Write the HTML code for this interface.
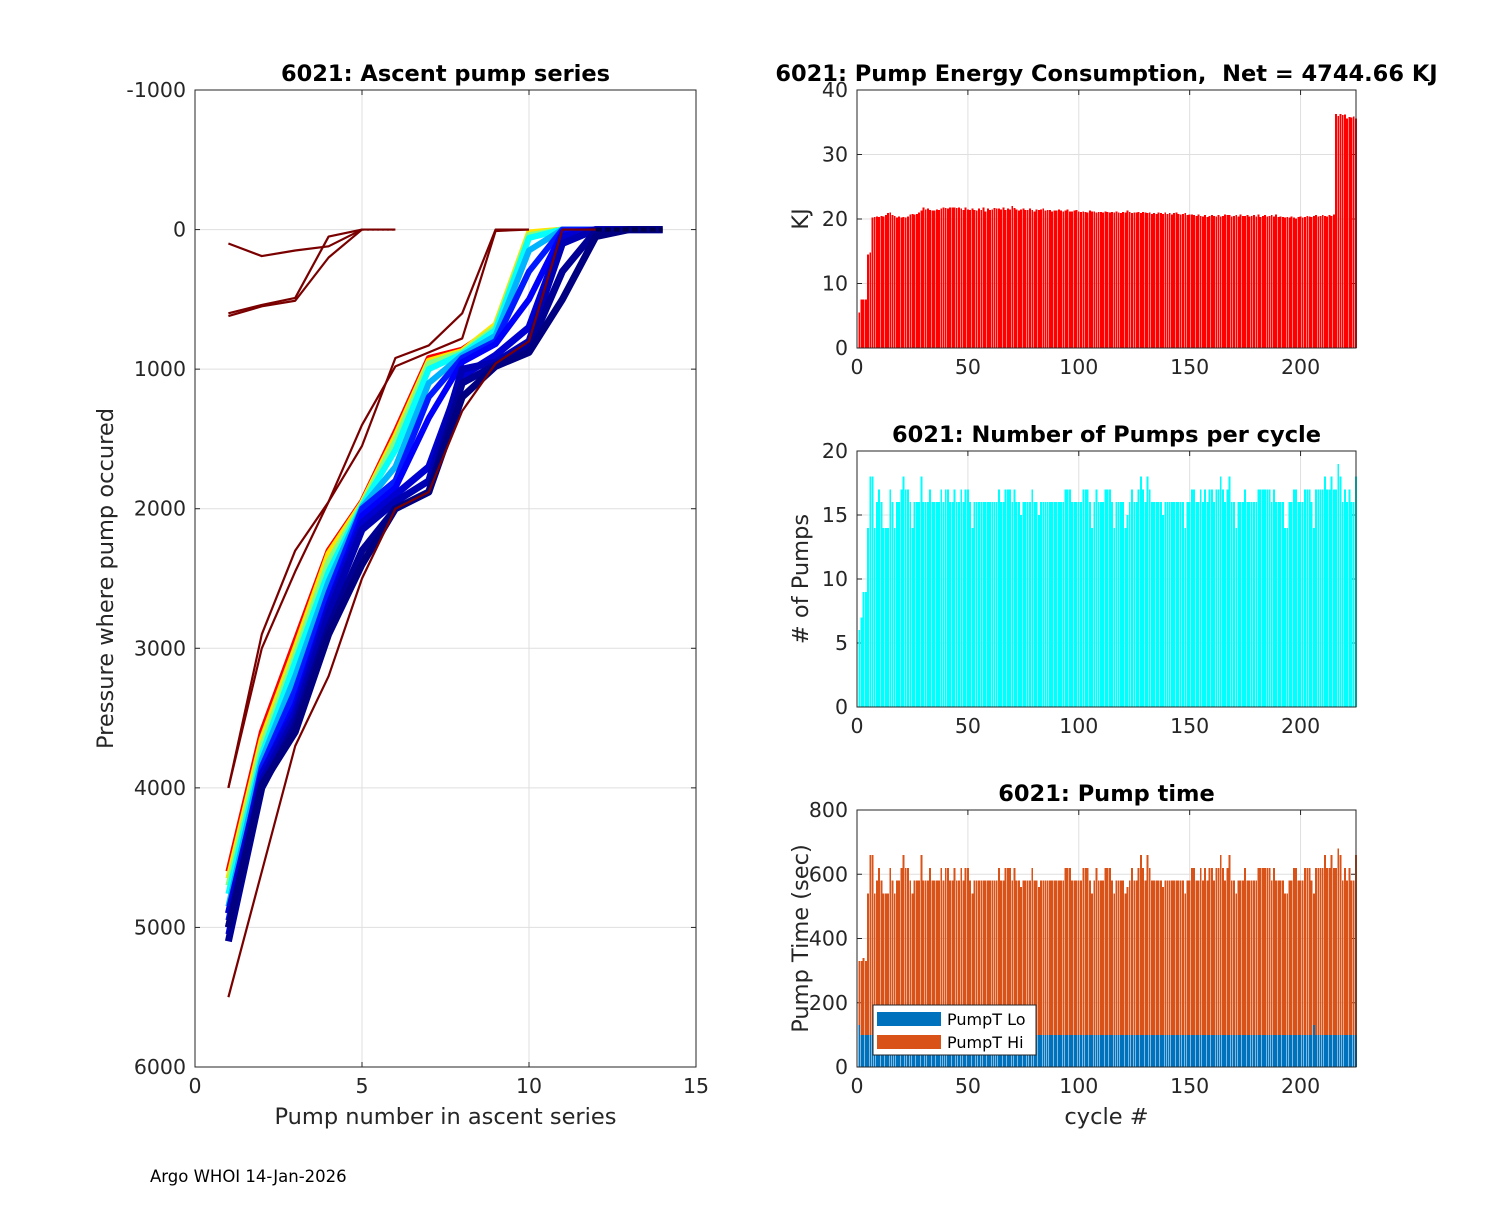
<!DOCTYPE html>
<html><head><meta charset="utf-8"><style>
body{margin:0;background:#fff;width:1500px;height:1200px;overflow:hidden}
svg{font-family:"DejaVu Sans","Liberation Sans",sans-serif}
text{white-space:pre}
</style></head><body>
<svg id="fig" width="1500" height="1200" viewBox="0 0 1500 1200" xmlns="http://www.w3.org/2000/svg"></svg>
<script>
// ---- left chart data: pressure at each pump in ascent series (representative profiles)
const profiles = [
 [4600,3600,2950,2300,1950,1450,920,860,700,30,0,0],
 [4650,3650,3000,2320,1960,1480,940,870,680,20,0,0],
 [4700,3700,3050,2380,1970,1520,960,880,700,40,0,0],
 [4760,3760,3100,2450,1980,1580,1000,890,720,60,0,0],
 [4850,3800,3200,2520,1990,1700,1100,900,760,150,0,0],
 [4950,3850,3300,2600,2000,1800,1200,920,800,300,0,0,0],
 [5050,3900,3400,2680,2050,1850,1350,950,820,500,20,0,0],
 [4900,3900,3450,2700,2100,1900,1700,1050,900,700,50,0,0,0],
 [5000,3950,3500,2750,2150,1950,1800,1000,950,800,100,0,0,0],
 [5100,4000,3550,2850,2300,2000,1880,1100,970,850,300,10,0,0],
 [5000,3980,3600,2900,2400,2000,1880,1200,980,880,500,50,0,0],
 [100,190,150,120,0,0],
 [600,540,490,50,0],
 [620,550,510,200,0],
 [4000,2900,2300,1950,1550,920,830,600,0,0],
 [4000,3000,2450,1950,1400,980,880,780,10,0],
 [5500,4600,3700,3200,2500,2000,1880,1300,960,800,0,0]
];
const profileColorIdx = [0.88,0.65,0.5,0.38,0.3,0.15,0.12,0.08,0.05,0.02,0.0,1,1,1,1,1,1];
const leftXTicks = [0,5,10,15];
const leftYTicks = [-1000,0,1000,2000,3000,4000,5000,6000];
// ---- right charts data (per cycle 1..225)
const energy = [5.5,7.5,7.5,7.5,14.5,14.8,20.2,20.3,20.4,20.3,20.5,20.4,20.6,20.9,21.0,20.6,20.5,20.2,20.4,20.2,20.3,20.2,20.4,20.7,20.8,20.7,20.8,21.0,21.3,21.8,21.5,21.6,21.4,21.3,21.3,21.5,21.4,21.6,21.8,21.7,21.6,21.8,21.8,21.8,21.7,21.8,21.6,21.4,21.8,21.5,21.4,21.6,21.4,21.3,21.6,21.4,21.8,21.2,21.6,21.4,21.5,21.7,21.6,21.6,21.5,21.8,21.4,21.6,21.5,22.0,21.7,21.5,21.3,21.5,21.6,21.4,21.4,21.6,21.4,21.2,21.5,21.4,21.5,21.6,21.3,21.4,21.4,21.2,21.3,21.3,21.5,21.3,21.2,21.3,21.5,21.2,21.2,21.3,21.4,21.2,21.1,21.2,21.1,21.0,21.3,21.2,21.2,21.0,21.1,21.1,21.0,21.2,21.1,21.0,21.1,21.0,21.2,21.0,20.9,21.1,21.0,21.3,21.1,20.9,21.0,21.0,21.1,20.9,21.1,21.0,20.9,21.0,20.8,20.9,20.8,21.0,20.9,20.8,21.0,20.8,20.9,20.7,20.9,21.0,20.8,20.7,20.8,20.9,20.6,20.7,20.7,20.6,20.5,20.7,20.5,20.4,20.6,20.3,20.5,20.6,20.5,20.4,20.6,20.4,20.5,20.7,20.6,20.6,20.4,20.5,20.6,20.4,20.7,20.5,20.5,20.6,20.4,20.5,20.6,20.4,20.7,20.3,20.5,20.6,20.4,20.5,20.6,20.4,20.7,20.3,20.4,20.3,20.2,20.3,20.2,20.4,20.2,20.1,20.3,20.4,20.2,20.3,20.5,20.4,20.3,20.5,20.6,20.4,20.5,20.6,20.5,20.4,20.6,20.5,20.7,36.3,36.0,36.3,36.1,36.2,35.6,35.8,35.7,35.9,35.6];
const pumps = [6,7,9,9,14,18,18,14,16,17,16,14,14,14,17,16,14,16,16,17,18,17,17,16,14,16,16,16,18,16,16,16,17,16,16,16,16,17,16,17,17,16,16,17,16,16,17,16,17,17,16,14,16,16,16,16,16,16,16,16,16,16,16,17,16,16,17,17,17,16,17,16,16,15,16,16,16,16,17,16,16,15,16,16,16,16,16,16,16,16,16,16,16,17,17,17,16,16,16,16,16,17,17,17,16,14,16,17,16,16,16,17,17,17,16,14,16,16,16,16,14,15,16,17,16,16,17,18,17,16,18,17,16,16,16,16,16,15,16,16,16,16,16,16,16,16,16,14,16,16,17,17,16,16,17,16,17,16,17,17,16,17,17,18,17,16,17,18,16,16,14,16,16,16,17,16,16,16,16,16,17,17,17,17,17,17,16,17,16,16,16,16,14,14,16,16,17,17,16,16,16,17,17,17,16,14,17,17,17,17,18,17,17,18,17,17,19,18,16,17,16,17,16,16,18];
const pumpLo = [130,100,100,100,100,100,100,100,100,100,100,100,100,100,100,100,100,100,100,100,100,100,100,100,100,100,100,100,100,100,100,100,100,100,100,100,100,100,100,100,100,100,100,100,100,100,100,100,100,100,100,100,100,100,100,100,100,100,100,100,100,100,100,100,100,100,100,100,100,100,100,100,100,100,100,100,100,100,100,100,100,100,100,100,100,100,100,100,100,100,100,100,100,100,100,100,100,100,100,100,100,100,100,100,100,100,100,100,100,100,100,100,100,100,100,100,100,100,100,100,100,100,100,100,100,100,100,100,100,100,100,100,100,100,100,100,100,100,100,100,100,100,100,100,100,100,100,100,100,100,100,100,100,100,100,100,100,100,100,100,100,100,100,100,100,100,100,100,100,100,100,100,100,100,100,100,100,100,100,100,100,100,100,100,100,100,100,100,100,100,100,100,100,100,100,100,100,100,100,100,100,100,100,100,100,130,100,100,100,100,100,100,100,100,100,100,100,100,100,100,100,100,100,100,100];
const pumpHi = [200,230,240,230,440,560,560,440,480,520,480,440,440,440,520,480,440,480,480,520,560,520,520,480,440,480,480,480,560,480,480,480,520,480,480,480,480,520,480,520,520,480,480,520,480,480,520,480,520,520,480,440,480,480,480,480,480,480,480,480,480,480,480,520,480,480,520,520,520,480,520,480,480,460,480,480,480,480,520,480,480,460,480,480,480,480,480,480,480,480,480,480,480,520,520,520,480,480,480,480,480,520,520,520,480,440,480,520,480,480,480,520,520,520,480,440,480,480,480,480,440,460,480,520,480,480,520,560,520,480,560,520,480,480,480,480,480,460,480,480,480,480,480,480,480,480,480,440,480,480,520,520,480,480,520,480,520,480,520,520,480,520,520,560,520,480,520,560,480,480,440,480,480,480,520,480,480,480,480,480,520,520,520,520,520,520,480,520,480,480,480,480,440,440,480,480,520,520,480,480,480,520,520,520,480,410,520,520,520,520,560,520,520,560,520,520,580,560,480,520,480,520,480,480,560];
const cycleTicks = [0,50,100,150,200];

const NS="http://www.w3.org/2000/svg";
const svg=document.getElementById('fig');
function mk(tag,attrs,parent,text){const e=document.createElementNS(NS,tag);for(const k in attrs)e.setAttribute(k,attrs[k]);if(text!==undefined)e.textContent=text;(parent||svg).appendChild(e);return e;}
function jet(t){const r=Math.min(1,Math.max(0,Math.min(4*t-1.5,-4*t+4.5)));const g=Math.min(1,Math.max(0,Math.min(4*t-0.5,-4*t+3.5)));const b=Math.min(1,Math.max(0,Math.min(4*t+0.5,-4*t+2.5)));return `rgb(${Math.round(r*255)},${Math.round(g*255)},${Math.round(b*255)})`;}
const AX='#262626', GR='#dfdfdf';
const TICKF=20.5, LABF=22.5, TITF=22.5;

function axesFrame(g,L,T,R,B,xt,xs,yt,ys,gridOn){
  for(const v of xt){const x=xs(v);
    if(gridOn){const ln=mk('line',{x1:x,x2:x,y1:T,y2:B,stroke:GR,'stroke-width':1},g);}
    mk('line',{x1:x,x2:x,y1:B,y2:B-5,stroke:AX},g);mk('line',{x1:x,x2:x,y1:T,y2:T+5,stroke:AX},g);
    const t=mk('text',{x:x,y:B+26,'text-anchor':'middle','font-size':TICKF,fill:AX},g,v);}
  for(const v of yt){const y=ys(v);
    if(gridOn){const ln=mk('line',{x1:L,x2:R,y1:y,y2:y,stroke:GR,'stroke-width':1},g);}
    mk('line',{x1:L,x2:L+5,y1:y,y2:y,stroke:AX},g);mk('line',{x1:R,x2:R-5,y1:y,y2:y,stroke:AX},g);
    const t=mk('text',{x:L-9,y:y+7,'text-anchor':'end','font-size':TICKF,fill:AX},g,v);}
}
function box(g,L,T,R,B){mk('rect',{x:L,y:T,width:R-L,height:B-T,fill:'none',stroke:AX,'stroke-width':1},g);}

// ---------- left chart
(function(){
  const L=195,T=90,R=696,B=1067;
  const g=mk('g',{});
  const xs=v=>L+(v-0)/15*(R-L), ys=v=>T+(v+1000)/7000*(B-T);
  axesFrame(g,L,T,R,B,leftXTicks,xs,leftYTicks,ys,true);
  const lines=mk('g',{},g);
  profiles.forEach((p,i)=>{
    const c=profileColorIdx[i]>=1?'#7a0000':jet(profileColorIdx[i]);
    const maroon=profileColorIdx[i]>=1;
    const pts=p.map((v,k)=>xs(k+1)+','+ys(v)).join(' ');
    const pl=mk('polyline',{points:pts,fill:'none',stroke:c,'stroke-width':maroon?2.2:(i>=7?7:6),'stroke-linejoin':'round'},lines);
    
  });
  const d1=mk('line',{x1:xs(5),x2:xs(6),y1:ys(0),y2:ys(0),stroke:'#7a0000','stroke-width':2,'stroke-dasharray':'2,3'},g);
  const d2=mk('line',{x1:xs(12),x2:xs(14),y1:ys(0),y2:ys(0),stroke:'#00004a','stroke-width':4,'stroke-dasharray':'6,3'},g);
  box(g,L,T,R,B);
  const t=mk('text',{x:(L+R)/2,y:81,'text-anchor':'middle','font-size':TITF,'font-weight':'bold',fill:'#000'},g,'6021: Ascent pump series');
  const xl=mk('text',{x:(L+R)/2,y:1124,'text-anchor':'middle','font-size':LABF,fill:AX},g,'Pump number in ascent series');
  const yl=mk('text',{x:0,y:0,transform:`translate(113,${(T+B)/2}) rotate(-90)`,'text-anchor':'middle','font-size':LABF,fill:AX},g,'Pressure where pump occured');
})();

// ---------- right bar charts
function barChart(name,T,B,ymax,yticks,title,ylab,seriesList,colors,xlab){
  const L=857,R=1356;
  const g=mk('g',{});
  const xs=v=>L+v/225*(R-L), ys=v=>B-v/ymax*(B-T);
  axesFrame(g,L,T,R,B,cycleTicks,xs,yticks,ys,true);
  const bars=mk('g',{'shape-rendering':'crispEdges'},g);
  const w=0.85*(R-L)/225;
  seriesList[0].forEach((_,i)=>{
    let base=0;
    seriesList.forEach((s,si)=>{
      const v=s[i];const y0=ys(base),y1=ys(base+v);
      const r=mk('rect',{x:xs(i+1)-w/2,y:y1,width:w,height:y0-y1,fill:colors[si]},bars);
      
      base+=v;
    });
  });
  box(g,L,T,R,B);
  const t=mk('text',{x:(L+R)/2,y:T-9,'text-anchor':'middle','font-size':TITF,'font-weight':'bold',fill:'#000'},g,title);
  const yl=mk('text',{x:0,y:0,transform:`translate(808,${(T+B)/2}) rotate(-90)`,'text-anchor':'middle','font-size':LABF,fill:AX},g,ylab);
  if(xlab){const xl=mk('text',{x:(L+R)/2,y:1124,'text-anchor':'middle','font-size':LABF,fill:AX},g,xlab);}
  return g;
}
barChart('energy-chart',90,348,40,[0,10,20,30,40],'6021: Pump Energy Consumption,  Net = 4744.66 KJ','KJ',[energy],['#ff0000']);
barChart('pumps-chart',451,707,20,[0,5,10,15,20],'6021: Number of Pumps per cycle','# of Pumps',[pumps],['#00ffff']);
const g3=barChart('pump-time-chart',810,1067,800,[0,200,400,600,800],'6021: Pump time','Pump Time (sec)',[pumpLo,pumpHi],['#0072bd','#d95319'],'cycle #');
const lg=mk('g',{},g3);
mk('rect',{x:873,y:1005,width:163,height:50,fill:'#fff',stroke:AX,'stroke-width':1},lg);
mk('rect',{x:877,y:1012,width:64,height:14,fill:'#0072bd'},lg);
const l1=mk('text',{x:947,y:1025,'font-size':16,fill:'#000'},lg,'PumpT Lo');
mk('rect',{x:877,y:1035,width:64,height:14,fill:'#d95319'},lg);
const l2=mk('text',{x:947,y:1048,'font-size':16,fill:'#000'},lg,'PumpT Hi');

const ft=mk('text',{x:150,y:1182,'font-size':16.5,fill:'#000'},svg,'Argo WHOI 14-Jan-2026');


</script>
</body></html>
